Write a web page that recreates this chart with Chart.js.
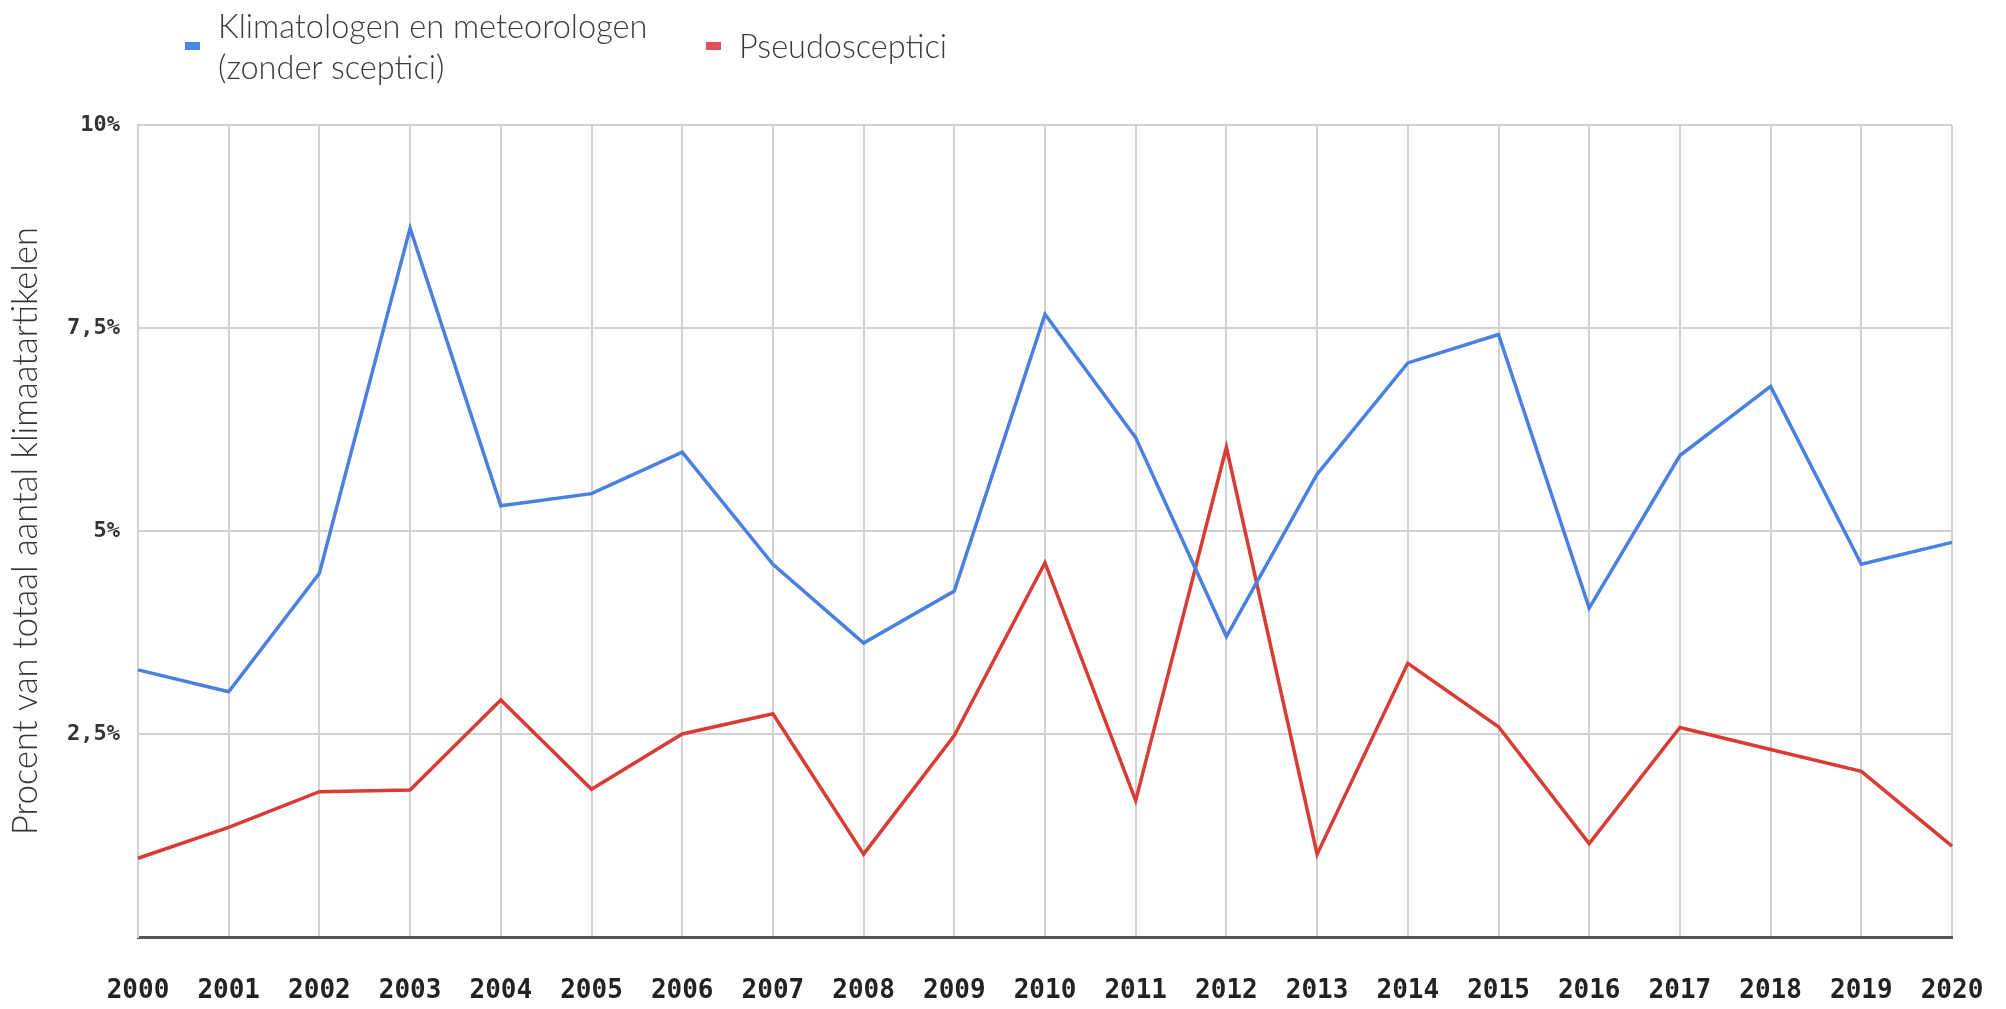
<!DOCTYPE html>
<html>
<head>
<meta charset="utf-8">
<script src="https://cdn.jsdelivr.net/npm/chart.js@4"></script>
<style>
html, body { margin: 0; padding: 0; background: #fff; }
#wrap { position: relative; width: 2006px; height: 1009px; }
#legenda { position: absolute; left: 0; top: 0; font-family: Lato, "Noto Sans", sans-serif; font-weight: 300; font-size: 32.5px; line-height: 41px; color: #3a3a3a; }
.item { position: absolute; display: flex; align-items: center; white-space: nowrap; }
.box { width: 15px; height: 8px; margin-right: 18px; }
</style>
</head>
<body>
<div id="wrap">
  <canvas id="myChart" width="2006" height="1009"></canvas>
  <div id="legenda"></div>
</div>
<script>
// jaren op de x-as
var jaren = ['2000','2001','2002','2003','2004','2005','2006','2007','2008','2009','2010',
             '2011','2012','2013','2014','2015','2016','2017','2018','2019','2020'];

// percentages
var klimatologen = [3.29, 3.02, 4.48, 8.73, 5.31, 5.46, 5.97, 4.59, 3.62, 4.26, 7.67,
                    6.15, 3.70, 5.70, 7.07, 7.42, 4.05, 5.93, 6.78, 4.59, 4.86];
var pseudosceptici = [0.97, 1.35, 1.79, 1.81, 2.92, 1.82, 2.50, 2.75, 1.02, 2.48, 4.61,
                      1.68, 6.03, 1.02, 3.37, 2.59, 1.15, 2.58, 2.31, 2.04, 1.12];

// namen van de reeksen (regels voor de legenda)
var naamKlimatologen = ['Klimatologen en meteorologen', '(zonder sceptici)'];
var naamPseudo = ['Pseudosceptici'];

// labels van de y-as
var yLabels = ['', '2,5%', '5%', '7,5%', '10%'];
var yTitel = 'Procent van totaal aantal klimaatartikelen';

var kleurBlauw = '#4a80e0';
var kleurRood = '#d93b35';

var ctx = document.getElementById('myChart').getContext('2d');

var myChart = new Chart(ctx, {
  type: 'line',
  data: {
    labels: jaren,
    datasets: [{
      label: naamKlimatologen.join(' '),
      data: klimatologen,
      borderColor: kleurBlauw,
      borderWidth: 3.5,
      pointRadius: 0,
      tension: 0,
      fill: false
    }, {
      label: naamPseudo.join(' '),
      data: pseudosceptici,
      borderColor: kleurRood,
      borderWidth: 3.5,
      pointRadius: 0,
      tension: 0,
      fill: false
    }]
  },
  options: {
    responsive: false,
    animation: false,
    devicePixelRatio: 1,
    layout: { padding: { top: 125, right: 54, left: 0, bottom: 0 } },
    plugins: {
      legend: { display: false },
      tooltip: { enabled: false }
    },
    scales: {
      x: {
        grid: { color: '#d2d2d2', lineWidth: 2, drawTicks: false },
        border: { color: '#555', width: 3 },
        ticks: {
          // kleine padding, labels zakken via lineHeight (anders krimpt het plotvlak rechts)
          padding: 4,
          autoSkip: false,
          maxRotation: 0,
          color: '#222',
          font: { family: 'DejaVu Sans Mono', weight: 'bold', size: 26, lineHeight: 3.9 }
        },
        afterFit: function(s) { s.height = 72; }
      },
      y: {
        min: 0,
        max: 10,
        grid: { color: '#d2d2d2', lineWidth: 2, drawTicks: false },
        border: { color: '#d2d2d2', width: 2 },
        ticks: {
          stepSize: 2.5,
          padding: 18,
          color: '#333',
          font: { family: 'DejaVu Sans Mono', weight: 'bold', size: 22 },
          callback: function(v, i) { return yLabels[i]; }
        },
        title: {
          display: true,
          text: yTitel,
          color: '#333',
          padding: { top: 5, bottom: 0 },
          font: { family: 'Lato, "Noto Sans", sans-serif', weight: 300, size: 34.5 }
        },
        afterFit: function(s) { s.width = 138; }
      }
    }
  }
});

// legenda in HTML (blauwe reeks heeft twee regels)
var legenda = document.getElementById('legenda');
var items = [
  { regels: naamKlimatologen, kleur: '#4a86e8', left: 185, top: 5 },
  { regels: naamPseudo, kleur: '#e0505f', left: 706, top: 25 }
];
for (var i = 0; i < items.length; i++) {
  var div = document.createElement('div');
  div.className = 'item';
  div.style.left = items[i].left + 'px';
  div.style.top = items[i].top + 'px';
  var box = document.createElement('span');
  box.className = 'box';
  box.style.background = items[i].kleur;
  var txt = document.createElement('span');
  txt.innerHTML = items[i].regels.join('<br>');
  div.appendChild(box);
  div.appendChild(txt);
  legenda.appendChild(div);
}
</script>
</body>
</html>
